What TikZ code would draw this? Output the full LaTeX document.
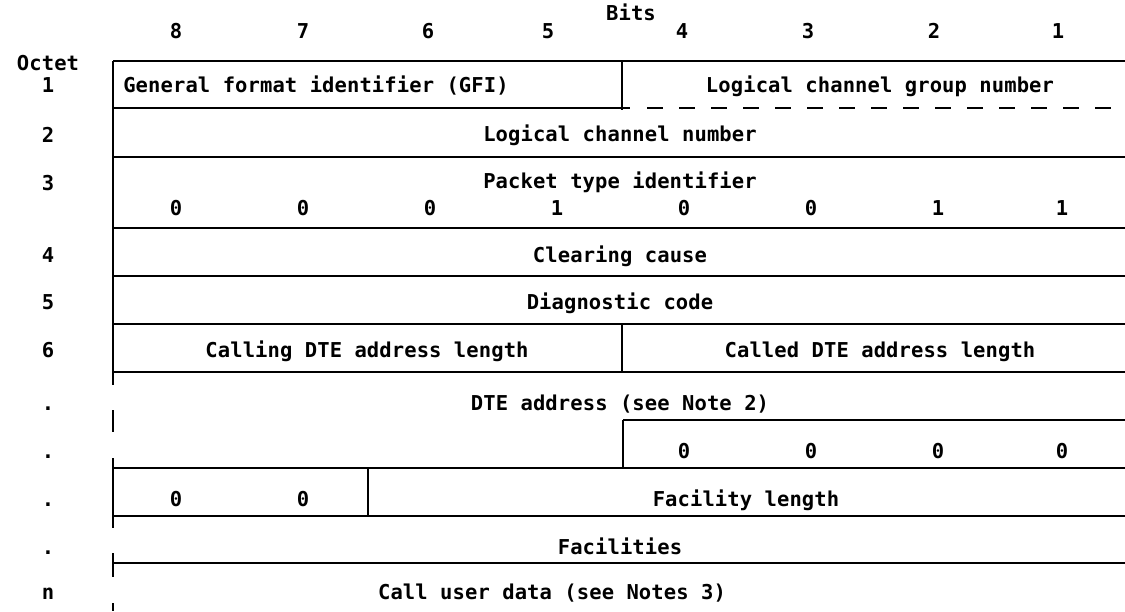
\documentclass[tikz,border=0pt]{standalone}
\usepackage{fontspec}
\newfontfamily\ibm[LetterSpace=0.5]{DejaVu Sans Mono}
\begin{document}
\begin{tikzpicture}[x=1pt,y=-1pt,
  rule/.style={line width=2.2pt, black},
  dashrule/.style={line width=2.2pt, black, dash pattern=on 16pt off 16pt},
  lbl/.style={font=\ibm\bfseries\fontsize{20.5}{24}\selectfont, inner sep=0pt, text height=15pt, text depth=0pt, anchor=center}]
\useasboundingbox (0,0) rectangle (1125,611);
% header
\node[lbl] (bits) at (631,13) {Bits};
\foreach \b/\x in {8/176,7/303,6/428,5/548,4/682,3/808,2/934,1/1058}
  \node[lbl] (b\b) at (\x,31) {\b};
\node[lbl] (octet) at (48,63) {Octet};
% octet numbers
\foreach \n/\y/\t in {o1/85/1,o2/135/2,o3/183/3,o4/255/4,o5/302/5,o6/350/6}
  \node[lbl] (\n) at (48,\y) {\t};
\foreach \n/\y in {d1/403,d2/451,d3/499,d4/547}
  \node[lbl] (\n) at (48,\y) {.};
\node[lbl] (on) at (48,592) {n};
% frame lines
\draw[rule] (113,61) -- (1125,61);
\draw[rule] (113,61) -- (113,385);
\draw[rule] (113,410) -- (113,432);
\draw[rule] (113,458) -- (113,528);
\draw[rule] (113,553) -- (113,577);
\draw[rule] (113,603) -- (113,611);
% octet 1
\draw[rule] (622,61) -- (622,110);
\draw[rule] (113,108) -- (630,108);
\draw[dashrule] (647,108) -- (1125,108);
\node[lbl] (gfi) at (316,85) {General format identifier (GFI)};
\node[lbl] (lcgn) at (880,85) {Logical channel group number};
% octet 2
\node[lbl] (lcn) at (620,134) {Logical channel number};
\draw[rule] (113,157) -- (1125,157);
% octet 3
\node[lbl] (pti) at (620,181) {Packet type identifier};
\foreach \v/\x in {0/176,0/303,0/430,1/557,0/684,0/811,1/938,1/1062}
  \node[lbl] at (\x,208) {\v};
\draw[rule] (113,228) -- (1125,228);
% octet 4
\node[lbl] (cc) at (620,255) {Clearing cause};
\draw[rule] (113,276) -- (1125,276);
% octet 5
\node[lbl] (dc) at (620,302) {Diagnostic code};
\draw[rule] (113,324) -- (1125,324);
% octet 6
\draw[rule] (622,324) -- (622,372);
\node[lbl] (cgl) at (367,350) {Calling DTE address length};
\node[lbl] (cdl) at (880,350) {Called DTE address length};
\draw[rule] (113,372) -- (1125,372);
% DTE address
\node[lbl] (dte) at (620,403) {DTE address (see Note 2)};
\draw[rule] (623,420) -- (1125,420);
\draw[rule] (623,420) -- (623,468);
\foreach \x in {684,811,938,1062}
  \node[lbl] at (\x,451) {0};
\draw[rule] (113,468) -- (1125,468);
% facility length
\draw[rule] (368,468) -- (368,516);
\node[lbl] at (176,499) {0};
\node[lbl] at (303,499) {0};
\node[lbl] (fl) at (746,499) {Facility length};
\draw[rule] (113,516) -- (1125,516);
% facilities
\node[lbl] (fac) at (620,547) {Facilities};
\draw[rule] (113,563) -- (1125,563);
% call user data
\node[lbl] (cud) at (552,592) {Call user data (see Notes 3)};
\end{tikzpicture}
\end{document}
